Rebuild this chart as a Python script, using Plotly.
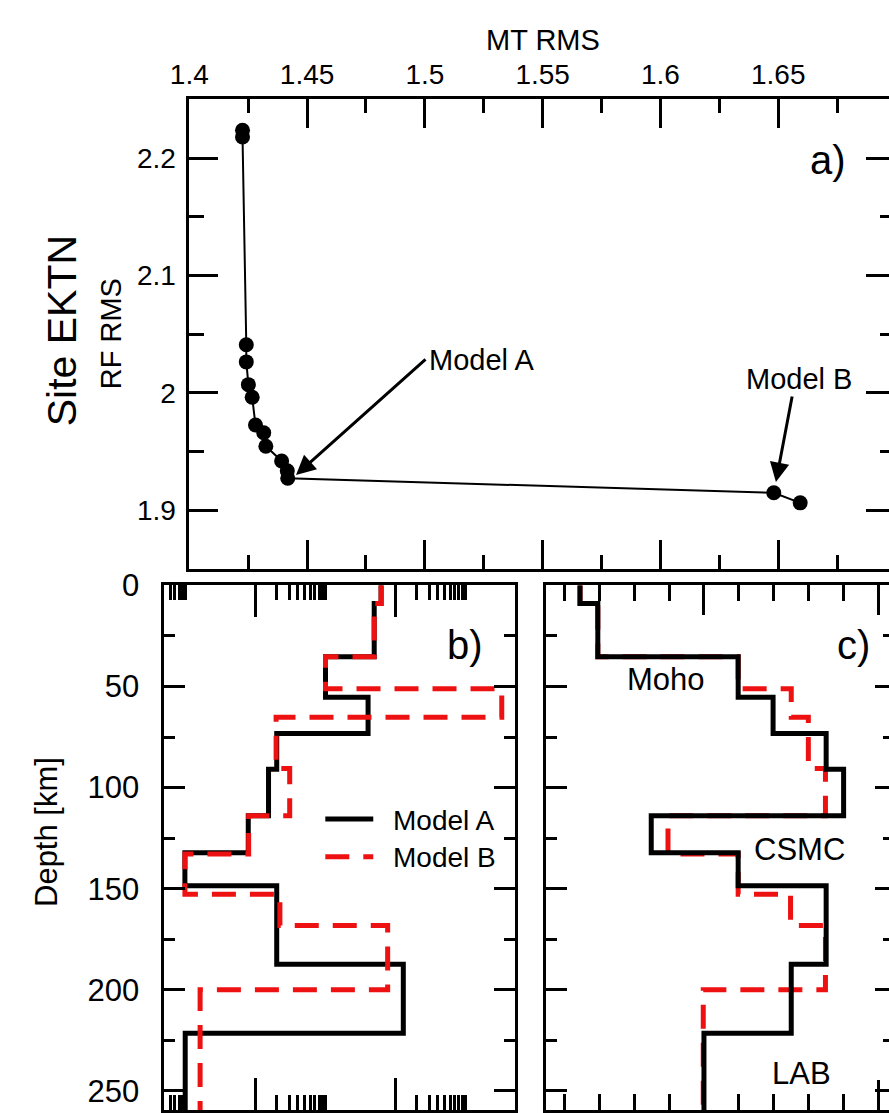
import plotly.graph_objects as go

# ---------------- data ----------------
# Panel a: trade-off curve
mt_rms = [1.4226, 1.4226, 1.4242, 1.4242, 1.4251, 1.4267, 1.4281, 1.4316, 1.4325,
          1.4392, 1.4416, 1.4418, 1.6481, 1.6593]
rf_rms = [2.2237, 2.2180, 2.0410, 2.0264, 2.0070, 1.9963, 1.9726, 1.9660, 1.9545,
          1.9420, 1.9336, 1.9272, 1.9149, 1.9063]

# Layer boundaries (km)
depth_a = [0, 9, 35.3, 55.3, 73.3, 90.9, 113.9, 132.2, 148.5, 187.3, 221.5, 259.4]
depth_b = [0, 9, 35.3, 51.1, 65.2, 90.6, 113.9, 132.8, 152.8, 168.2, 200.0, 259.4]

# Panel b: resistivity (log scale)
res_a = [617, 492, 99, 402, 19.9, 15.2, 7.8, 0.97, 19.9, 1282, 0.98]
res_b = [617, 492, 99, 32700, 19.5, 30.5, 7.9, 0.97, 22.1, 766, 1.6]

# Panel c: shear velocity
vs_a = [3.645, 3.696, 4.098, 4.198, 4.350, 4.400, 3.849, 4.098, 4.350, 4.250, 4.000]
vs_b = [3.645, 3.696, 4.098, 4.250, 4.299, 4.348, 3.897, 4.098, 4.248, 4.348, 3.998]

W, H = 889, 1113
FONT = "Liberation Sans, Arial, Helvetica, sans-serif"


def steps(vals, depths):
    xs, ys = [], []
    for i, v in enumerate(vals):
        xs += [v, v]
        ys += [depths[i], depths[i + 1]]
    return xs, ys


def px(x):
    return x / W


def py(y):
    return (H - y) / H


fig = go.Figure()

# Panel a
fig.add_trace(go.Scatter(x=mt_rms, y=rf_rms, mode="lines+markers",
                         line=dict(color="black", width=2),
                         marker=dict(color="black", size=15),
                         xaxis="x", yaxis="y", showlegend=False))
# helper (invisible) traces so the right-hand tick axes are drawn
fig.add_trace(go.Scatter(x=mt_rms[:1], y=rf_rms[:1], mode="markers", opacity=0,
                         hoverinfo="skip", xaxis="x", yaxis="y4", showlegend=False))

# Panel b (black under red)
xa, ya = steps(res_a, depth_a)
xb, yb = steps(res_b, depth_b)
fig.add_trace(go.Scatter(x=xa, y=ya, mode="lines", line=dict(color="black", width=5),
                         xaxis="x2", yaxis="y2", showlegend=False))
fig.add_trace(go.Scatter(x=xb, y=yb, mode="lines",
                         line=dict(color="#ee1111", width=5, dash="24px,14px"),
                         xaxis="x2", yaxis="y2", showlegend=False))

# Panel c (red under black)
xa, ya = steps(vs_a, depth_a)
xb, yb = steps(vs_b, depth_b)
fig.add_trace(go.Scatter(x=xb, y=yb, mode="lines",
                         line=dict(color="#ee1111", width=5, dash="24px,14px"),
                         xaxis="x3", yaxis="y3", showlegend=False))
fig.add_trace(go.Scatter(x=xa, y=ya, mode="lines", line=dict(color="black", width=5),
                         xaxis="x3", yaxis="y3", showlegend=False))
fig.add_trace(go.Scatter(x=xa[:1], y=ya[:1], mode="markers", opacity=0,
                         hoverinfo="skip", xaxis="x3", yaxis="y5", showlegend=False))

axcommon = dict(showgrid=False, zeroline=False, showline=True, linecolor="black",
                linewidth=2.5, mirror="ticks", ticks="inside", tickwidth=2.5,
                tickcolor="black")


def minor(**kw):
    d = dict(ticks="inside", tickwidth=2.5, tickcolor="black")
    d.update(kw)
    return d


minor_res = [0.5, 0.6, 0.7, 0.8, 0.9, 1,
             20, 30, 40, 50, 60, 70, 80, 90, 100,
             2000, 3000, 4000, 5000, 6000, 7000, 8000, 9000, 10000]

fig.update_layout(
    width=W, height=H,
    margin=dict(l=0, r=0, t=0, b=0),
    paper_bgcolor="white", plot_bgcolor="white",
    font=dict(family=FONT, color="black"),
    xaxis=dict(**axcommon, domain=[px(174), 1], range=[1.4, 1.697], side="top",
               anchor="y", tick0=1.4, dtick=0.05, ticklen=29,
               tickfont=dict(size=28), ticklabelstandoff=2,
               minor=minor(dtick=0.025, tick0=1.4, ticklen=14)),
    yaxis={**axcommon, "mirror": False, "domain": [py(562), py(84)],
           "range": [1.85, 2.25], "anchor": "x", "tick0": 1.9, "dtick": 0.1,
           "ticklen": 29, "tickfont": dict(size=28), "ticklabelstandoff": 5,
           "minor": minor(dtick=0.05, tick0=1.9, ticklen=15)},
    yaxis4=dict(overlaying="y", side="right", anchor="x", range=[1.85, 2.25],
                showline=False, showgrid=False, zeroline=False, showticklabels=False,
                ticks="inside", tick0=1.9, dtick=0.1, ticklen=23, tickwidth=2.5,
                tickcolor="black", minor=minor(dtick=0.05, tick0=1.9, ticklen=9)),
    xaxis2=dict(**axcommon, domain=[px(148.3), px(506.7)], type="log",
                range=[-0.310, 4.702], anchor="y2", side="top",
                tickvals=[10, 1000], ticklen=32, showticklabels=False,
                minor=minor(tickvals=minor_res, ticklen=15)),
    yaxis2=dict(**axcommon, domain=[0, py(578.7)], range=[259.4, 0],
                anchor="x2", tick0=0, dtick=50, ticklen=21,
                tickfont=dict(size=31), ticklabelstandoff=16,
                minor=minor(dtick=25, tick0=0, ticklen=11)),
    xaxis3=dict(**axcommon, domain=[px(538.3), 1], range=[3.547, 4.530],
                anchor="y3", side="top", tickvals=[4.0, 4.5], ticklen=30,
                showticklabels=False,
                minor=minor(dtick=0.1, tick0=3.5, ticklen=16)),
    yaxis3={**axcommon, "mirror": False, "domain": [0, py(578.7)],
            "range": [259.4, 0], "anchor": "x3", "tick0": 0, "dtick": 50,
            "ticklen": 21, "showticklabels": False,
            "minor": minor(dtick=25, tick0=0, ticklen=11)},
    yaxis5=dict(overlaying="y3", side="right", anchor="x3", range=[259.4, 0],
                showline=False, showgrid=False, zeroline=False, showticklabels=False,
                ticks="inside", tick0=0, dtick=50, ticklen=14, tickwidth=2.5,
                tickcolor="black", minor=minor(dtick=25, tick0=0, ticklen=6)),
)

ann = []


def ptext(text, x, y, size, angle=0, xanchor="center"):
    ann.append(dict(text=text, x=px(x), y=py(y), xref="paper", yref="paper",
                    showarrow=False, font=dict(size=size, family=FONT, color="black"),
                    textangle=angle, xanchor=xanchor, yanchor="middle"))


ptext("MT RMS", 535, 23.5, 29)
ptext("Site EKTN", 44, 320, 41, angle=-90)
ptext("RF RMS", 94, 322, 29, angle=-90)
ptext("Depth [km]", 27.5, 830, 31, angle=-90)

# Panel labels
ann.append(dict(text="a)", x=1.671, y=2.1986, xref="x", yref="y", showarrow=False,
                font=dict(size=40, family=FONT, color="black")))
ptext("b)", 456, 639, 40)
ptext("c)", 852.5, 639, 40)

# Panel c labels
for t, xv, dv in [("Moho", 3.890, 46.7), ("CSMC", 4.273, 130.4), ("LAB", 4.28, 241.5)]:
    ann.append(dict(text=t, x=xv, y=dv, xref="x3", yref="y3", showarrow=False,
                    font=dict(size=31, family=FONT, color="black")))

# Model A / Model B annotations with arrows
ann.append(dict(text="Model A", x=px(417), y=py(349), xref="paper", yref="paper",
                showarrow=False, xanchor="left", yanchor="middle",
                font=dict(size=29, family=FONT, color="black")))
ann.append(dict(text="", x=1.4453, y=1.930, xref="x", yref="y", showarrow=True,
                ax=131, ay=-117, arrowhead=2, arrowsize=1.3, arrowwidth=3,
                arrowcolor="black"))
ann.append(dict(text="Model B", x=px(797), y=py(369), xref="paper", yref="paper",
                showarrow=False, xanchor="center", yanchor="middle",
                font=dict(size=29, family=FONT, color="black")))
ann.append(dict(text="", x=1.649, y=1.924, xref="x", yref="y", showarrow=True,
                ax=16.5, ay=-87, arrowhead=2, arrowsize=1.3, arrowwidth=3,
                arrowcolor="black"))

# Legend (manual)
ann.append(dict(text="Model A", x=px(380), y=py(818), xref="paper", yref="paper",
                showarrow=False, xanchor="left", yanchor="middle",
                font=dict(size=28, family=FONT, color="black")))
ann.append(dict(text="Model B", x=px(380), y=py(856), xref="paper", yref="paper",
                showarrow=False, xanchor="left", yanchor="middle",
                font=dict(size=28, family=FONT, color="black")))

shapes = [
    dict(type="line", xref="paper", yref="paper", x0=px(313), x1=px(362),
         y0=py(816.7), y1=py(816.7), line=dict(color="black", width=5)),
    dict(type="line", xref="paper", yref="paper", x0=px(313), x1=px(362),
         y0=py(855), y1=py(855), line=dict(color="#ee1111", width=5, dash="24px,14px")),
]

fig.update_layout(annotations=ann, shapes=shapes)

fig.write_html("out.html", config={"displayModeBar": False},
               post_script="document.body.style.margin='0';"
                           "document.body.style.overflow='hidden';")
